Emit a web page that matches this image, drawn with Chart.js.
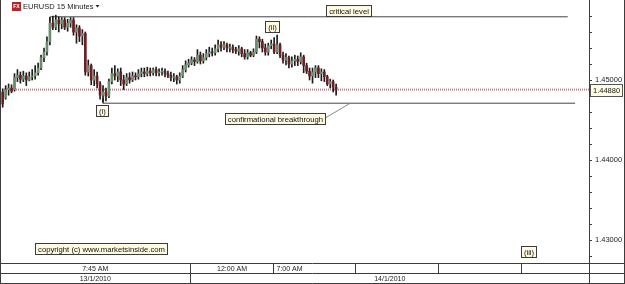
<!DOCTYPE html>
<html>
<head>
<meta charset="utf-8">
<script src="https://cdn.jsdelivr.net/npm/chart.js@4.4.1/dist/chart.umd.min.js"></script>
<style>
  html, body { margin: 0; padding: 0; background: #fff; }
</style>
</head>
<body>
<canvas id="chart" width="625" height="284"></canvas>
<script>
// EURUSD 15 min candles, 8:00 AM 13/1 onwards
const opens = [
  1.4485, 1.4478, 1.4488, 1.4490, 1.4488, 1.4503, 1.4506, 1.4501, 1.4505, 1.4500,
  1.4504, 1.4505, 1.4509, 1.4515, 1.4528, 1.4535, 1.4548, 1.4571, 1.4566, 1.4575,
  1.4570, 1.4575, 1.4566, 1.4571, 1.4575, 1.4560, 1.4565, 1.4555, 1.4558, 1.4510,
  1.4518, 1.4500, 1.4505, 1.4495, 1.4481, 1.4485, 1.4480, 1.4498, 1.4508, 1.4505,
  1.4510, 1.4500, 1.4495, 1.4503, 1.4500, 1.4505, 1.4504, 1.4508, 1.4510, 1.4508,
  1.4511, 1.4509, 1.4513, 1.4509, 1.4510, 1.4511, 1.4508, 1.4506, 1.4503, 1.4504,
  1.4500, 1.4505, 1.4513, 1.4519, 1.4521, 1.4525, 1.4523, 1.4531, 1.4524, 1.4528,
  1.4533, 1.4535, 1.4534, 1.4539, 1.4544, 1.4541, 1.4544, 1.4540, 1.4541, 1.4538,
  1.4536, 1.4539, 1.4533, 1.4529, 1.4534, 1.4531, 1.4535, 1.4551, 1.4548, 1.4540,
  1.4535, 1.4543, 1.4545, 1.4535, 1.4544, 1.4531, 1.4525, 1.4528, 1.4520, 1.4524,
  1.4526, 1.4523, 1.4529, 1.4518, 1.4511, 1.4505, 1.4510, 1.4515, 1.4508, 1.4510,
  1.4504, 1.4495, 1.4498, 1.4491
]
const highs = [
  1.4489, 1.4493, 1.4495, 1.4494, 1.4508, 1.4513, 1.4510, 1.4511, 1.4509, 1.4510,
  1.4513, 1.4518, 1.4521, 1.4531, 1.4540, 1.4554, 1.4578, 1.4580, 1.4581, 1.4579,
  1.4578, 1.4578, 1.4576, 1.4578, 1.4578, 1.4569, 1.4568, 1.4563, 1.4560, 1.4525,
  1.4520, 1.4513, 1.4510, 1.4498, 1.4493, 1.4490, 1.4501, 1.4515, 1.4518, 1.4514,
  1.4515, 1.4506, 1.4508, 1.4509, 1.4510, 1.4509, 1.4513, 1.4515, 1.4515, 1.4516,
  1.4515, 1.4515, 1.4516, 1.4514, 1.4515, 1.4514, 1.4511, 1.4510, 1.4508, 1.4506,
  1.4509, 1.4518, 1.4524, 1.4526, 1.4529, 1.4528, 1.4538, 1.4535, 1.4533, 1.4538,
  1.4541, 1.4540, 1.4544, 1.4550, 1.4548, 1.4548, 1.4546, 1.4545, 1.4544, 1.4541,
  1.4543, 1.4541, 1.4538, 1.4538, 1.4536, 1.4539, 1.4555, 1.4554, 1.4551, 1.4545,
  1.4546, 1.4550, 1.4553, 1.4556, 1.4546, 1.4535, 1.4533, 1.4530, 1.4529, 1.4531,
  1.4530, 1.4534, 1.4531, 1.4521, 1.4515, 1.4515, 1.4518, 1.4518, 1.4514, 1.4513,
  1.4506, 1.4501, 1.4500, 1.4495
]
const lows = [
  1.4466, 1.4476, 1.4481, 1.4484, 1.4486, 1.4498, 1.4496, 1.4498, 1.4493, 1.4499,
  1.4500, 1.4501, 1.4506, 1.4513, 1.4523, 1.4531, 1.4544, 1.4563, 1.4563, 1.4560,
  1.4564, 1.4563, 1.4561, 1.4566, 1.4556, 1.4546, 1.4548, 1.4544, 1.4506, 1.4505,
  1.4494, 1.4493, 1.4490, 1.4476, 1.4473, 1.4474, 1.4478, 1.4495, 1.4500, 1.4498,
  1.4493, 1.4488, 1.4493, 1.4496, 1.4498, 1.4500, 1.4501, 1.4504, 1.4504, 1.4505,
  1.4505, 1.4506, 1.4505, 1.4505, 1.4506, 1.4504, 1.4503, 1.4499, 1.4498, 1.4495,
  1.4496, 1.4503, 1.4510, 1.4516, 1.4519, 1.4518, 1.4521, 1.4520, 1.4521, 1.4525,
  1.4529, 1.4530, 1.4531, 1.4535, 1.4536, 1.4538, 1.4535, 1.4535, 1.4534, 1.4533,
  1.4531, 1.4529, 1.4526, 1.4526, 1.4529, 1.4529, 1.4533, 1.4540, 1.4535, 1.4531,
  1.4531, 1.4539, 1.4533, 1.4533, 1.4528, 1.4521, 1.4519, 1.4515, 1.4516, 1.4518,
  1.4518, 1.4520, 1.4509, 1.4508, 1.4500, 1.4496, 1.4503, 1.4503, 1.4499, 1.4498,
  1.4493, 1.4490, 1.4485, 1.4481
]
const closes = [
  1.4470, 1.4488, 1.4490, 1.4486, 1.4503, 1.4506, 1.4501, 1.4505, 1.4500, 1.4504,
  1.4505, 1.4509, 1.4515, 1.4528, 1.4535, 1.4548, 1.4571, 1.4566, 1.4575, 1.4570,
  1.4575, 1.4566, 1.4571, 1.4575, 1.4560, 1.4565, 1.4555, 1.4558, 1.4510, 1.4518,
  1.4500, 1.4505, 1.4495, 1.4481, 1.4485, 1.4480, 1.4498, 1.4508, 1.4505, 1.4510,
  1.4500, 1.4495, 1.4503, 1.4500, 1.4505, 1.4504, 1.4508, 1.4510, 1.4508, 1.4511,
  1.4509, 1.4513, 1.4509, 1.4510, 1.4511, 1.4508, 1.4506, 1.4503, 1.4504, 1.4500,
  1.4505, 1.4513, 1.4519, 1.4521, 1.4525, 1.4523, 1.4531, 1.4524, 1.4528, 1.4533,
  1.4535, 1.4534, 1.4539, 1.4544, 1.4541, 1.4544, 1.4540, 1.4541, 1.4538, 1.4536,
  1.4539, 1.4533, 1.4529, 1.4534, 1.4531, 1.4535, 1.4551, 1.4548, 1.4540, 1.4535,
  1.4543, 1.4545, 1.4535, 1.4544, 1.4531, 1.4525, 1.4528, 1.4520, 1.4524, 1.4526,
  1.4523, 1.4529, 1.4518, 1.4511, 1.4505, 1.4510, 1.4515, 1.4508, 1.4510, 1.4504,
  1.4495, 1.4498, 1.4491, 1.4488
]

const timeLabels = ['7:45 AM', '12:00 AM', '7:00 AM']
const timeCuts = [63.5, 91.5, 119.5, 147.5, 175.5] // cell borders, in candle index
const dateLabels = ['13/1/2010', '14/1/2010']
const yLabels = [1.43, 1.44, 1.45]

const criticalLevel = 1.4579
const breakLevel = 1.4471
const lastPrice = 1.4488

const xMin = -0.915
const xMax = 198.7

// text boxes, anchored at candle index / price
const notes = [
  { text: 'critical level', i: 117.2, p: 1.45863 },
  { text: '(ii)', i: 91.3, p: 1.45663 },
  { text: '(i)', i: 33.7, p: 1.44613 },
  { text: 'confirmational breakthrough', i: 92.3, p: 1.44519 },
  { text: 'copyright (c) www.marketsinside.com', i: 33.3, p: 1.42894 },
  { text: '(iii)', i: 178.2, p: 1.42856 },
]

const FONT = '"Liberation Sans", Arial, sans-serif'

const idx = opens.map((_, i) => i)
const wicks = idx.map(i => ({ x: i, y: [lows[i], highs[i]] }))
const bodies = idx.map(i => ({ x: i, y: [opens[i], closes[i]] }))

const minorTicks = []
for (let v = 1428; v <= 1459; v++) minorTicks.push(v / 1000)

function seg(ctx, x1, y1, x2, y2) {
  ctx.beginPath()
  ctx.moveTo(x1, y1)
  ctx.lineTo(x2, y2)
  ctx.stroke()
}

function box(ctx, text, cx, cy, size) {
  ctx.font = size + 'px ' + FONT
  const w = Math.round(ctx.measureText(text).width + 5)
  const h = 11
  const x = Math.round(cx - w / 2) + 0.5
  const y = Math.round(cy - h / 2) + 0.5
  ctx.fillStyle = '#fffbe3'
  ctx.fillRect(x, y, w, h)
  ctx.strokeStyle = '#3c3c3c'
  ctx.strokeRect(x, y, w, h)
  ctx.fillStyle = '#111'
  ctx.textAlign = 'center'
  ctx.textBaseline = 'middle'
  ctx.fillText(text, x + w / 2, y + h / 2 + 0.5)
}

const decor = {
  id: 'decor',
  afterDatasetsDraw(chart) {
    const { ctx, scales: { x, y } } = chart
    ctx.save()
    ctx.lineWidth = 1
    // leader line from the label to the breakthrough level
    ctx.strokeStyle = '#8a8a8a'
    seg(ctx, x.getPixelForValue(109.3), y.getPixelForValue(1.44525),
      x.getPixelForValue(117.8), y.getPixelForValue(breakLevel))
    notes.forEach(n => {
      box(ctx, n.text, x.getPixelForValue(n.i), y.getPixelForValue(n.p), 7.7)
    })
    ctx.restore()
  },
  afterDraw(chart) {
    const { ctx, chartArea: a, scales: { x, y } } = chart
    const W = chart.width, H = chart.height
    ctx.save()
    ctx.lineWidth = 1
    ctx.strokeStyle = '#3c3c3c'

    const r1 = a.bottom + 0.5, r2 = a.bottom + 10.5, r3 = H - 0.5
    seg(ctx, 0, r1, W, r1)
    seg(ctx, 0, r2, W, r2)
    seg(ctx, 0, r3, W, r3)
    seg(ctx, 0.5, 0, 0.5, H)
    seg(ctx, W - 0.5, 0, W - 0.5, H)
    seg(ctx, a.right + 0.5, a.bottom, a.right + 0.5, H)

    const cuts = timeCuts.map(c => Math.round(x.getPixelForValue(c)) + 0.5)
    cuts.forEach(c => seg(ctx, c, r1, c, r2))
    seg(ctx, cuts[0], r2, cuts[0], r3)

    ctx.fillStyle = '#222'
    ctx.font = '7px ' + FONT
    ctx.textBaseline = 'middle'
    ctx.textAlign = 'center'
    ctx.fillText(timeLabels[0], (a.left + cuts[0]) / 2, r1 + 5.5)
    ctx.fillText(timeLabels[1], (cuts[0] + cuts[1]) / 2, r1 + 5.5)
    ctx.textAlign = 'left'
    ctx.fillText(timeLabels[2], cuts[1] + 3, r1 + 5.5)
    ctx.textAlign = 'center'
    ctx.fillText(dateLabels[0], (a.left + cuts[0]) / 2, r2 + 5.5)
    ctx.fillText(dateLabels[1], (cuts[0] + a.right) / 2, r2 + 5.5)

    // last price tag on the axis
    const ly = Math.round(y.getPixelForValue(lastPrice)) + 0.5
    ctx.fillStyle = '#ffffe6'
    ctx.fillRect(a.right + 1.5, ly - 6, 32, 12)
    ctx.strokeStyle = '#555'
    ctx.strokeRect(a.right + 1.5, ly - 6, 32, 12)
    ctx.fillStyle = '#111'
    ctx.font = '7.5px ' + FONT
    ctx.textAlign = 'left'
    ctx.fillText(lastPrice.toFixed(5), a.right + 4, ly + 0.5)

    // title
    ctx.fillStyle = '#b3262b'
    ctx.fillRect(12, 2, 9, 9)
    ctx.fillStyle = '#fff'
    ctx.font = 'bold 5px ' + FONT
    ctx.textAlign = 'center'
    ctx.fillText('FX', 16.5, 6.8)
    ctx.fillStyle = '#222'
    ctx.font = '7.5px ' + FONT
    ctx.textAlign = 'left'
    ctx.fillText('EURUSD 15 Minutes', 23, 6.5)
    ctx.beginPath()
    ctx.moveTo(95.5, 5)
    ctx.lineTo(99.5, 5)
    ctx.lineTo(97.5, 7.5)
    ctx.closePath()
    ctx.fill()
    ctx.restore()
  }
}

new Chart(document.getElementById('chart'), {
  type: 'bar',
  data: {
    datasets: [
      {
        data: bodies,
        backgroundColor: c => (closes[c.dataIndex] >= opens[c.dataIndex] ? '#6d8c6d' : '#6e1f26'),
        barThickness: 2,
        grouped: false,
        order: 0,
      },
      {
        data: wicks,
        backgroundColor: '#1c1c1c',
        barThickness: 1,
        grouped: false,
        order: 1,
      },
      {
        type: 'line',
        data: [{ x: 16, y: 1.4574 }, { x: 16, y: criticalLevel }, { x: 191.5, y: criticalLevel }],
        borderColor: '#444',
        borderWidth: 1,
        pointRadius: 0,
        order: 2,
      },
      {
        type: 'line',
        data: [{ x: 34, y: 1.4477 }, { x: 34, y: breakLevel }, { x: 194, y: breakLevel }],
        borderColor: '#444',
        borderWidth: 1,
        pointRadius: 0,
        order: 2,
      },
      {
        type: 'line',
        data: [{ x: xMin, y: lastPrice }, { x: xMax, y: lastPrice }],
        borderColor: '#b57f88',
        borderWidth: 2,
        borderDash: [1, 1],
        pointRadius: 0,
        order: 3,
      },
    ],
  },
  options: {
    responsive: false,
    animation: false,
    devicePixelRatio: 1,
    layout: { padding: { left: 0, right: 0, top: 0, bottom: 21 } },
    plugins: {
      legend: { display: false },
      tooltip: { enabled: false },
    },
    scales: {
      x: {
        type: 'linear',
        min: xMin,
        max: xMax,
        offset: false,
        display: false,
      },
      y: {
        position: 'right',
        min: 1.427125,
        max: 1.46,
        afterBuildTicks: s => {
          s.ticks = minorTicks.map(v => ({ value: v }))
        },
        afterFit: s => {
          s.width = 36
          s.paddingTop = 0
          s.paddingBottom = 0
        },
        ticks: {
          padding: 3,
          color: '#222',
          font: { family: FONT, size: 7.5 },
          callback: v => (yLabels.some(l => Math.abs(l - v) < 1e-7) ? v.toFixed(5) : ''),
        },
        grid: {
          drawOnChartArea: false,
          drawTicks: true,
          tickLength: 3,
          color: '#3c3c3c',
        },
        border: { display: true, color: '#3c3c3c' },
      },
    },
  },
  plugins: [decor],
})
</script>
</body>
</html>
